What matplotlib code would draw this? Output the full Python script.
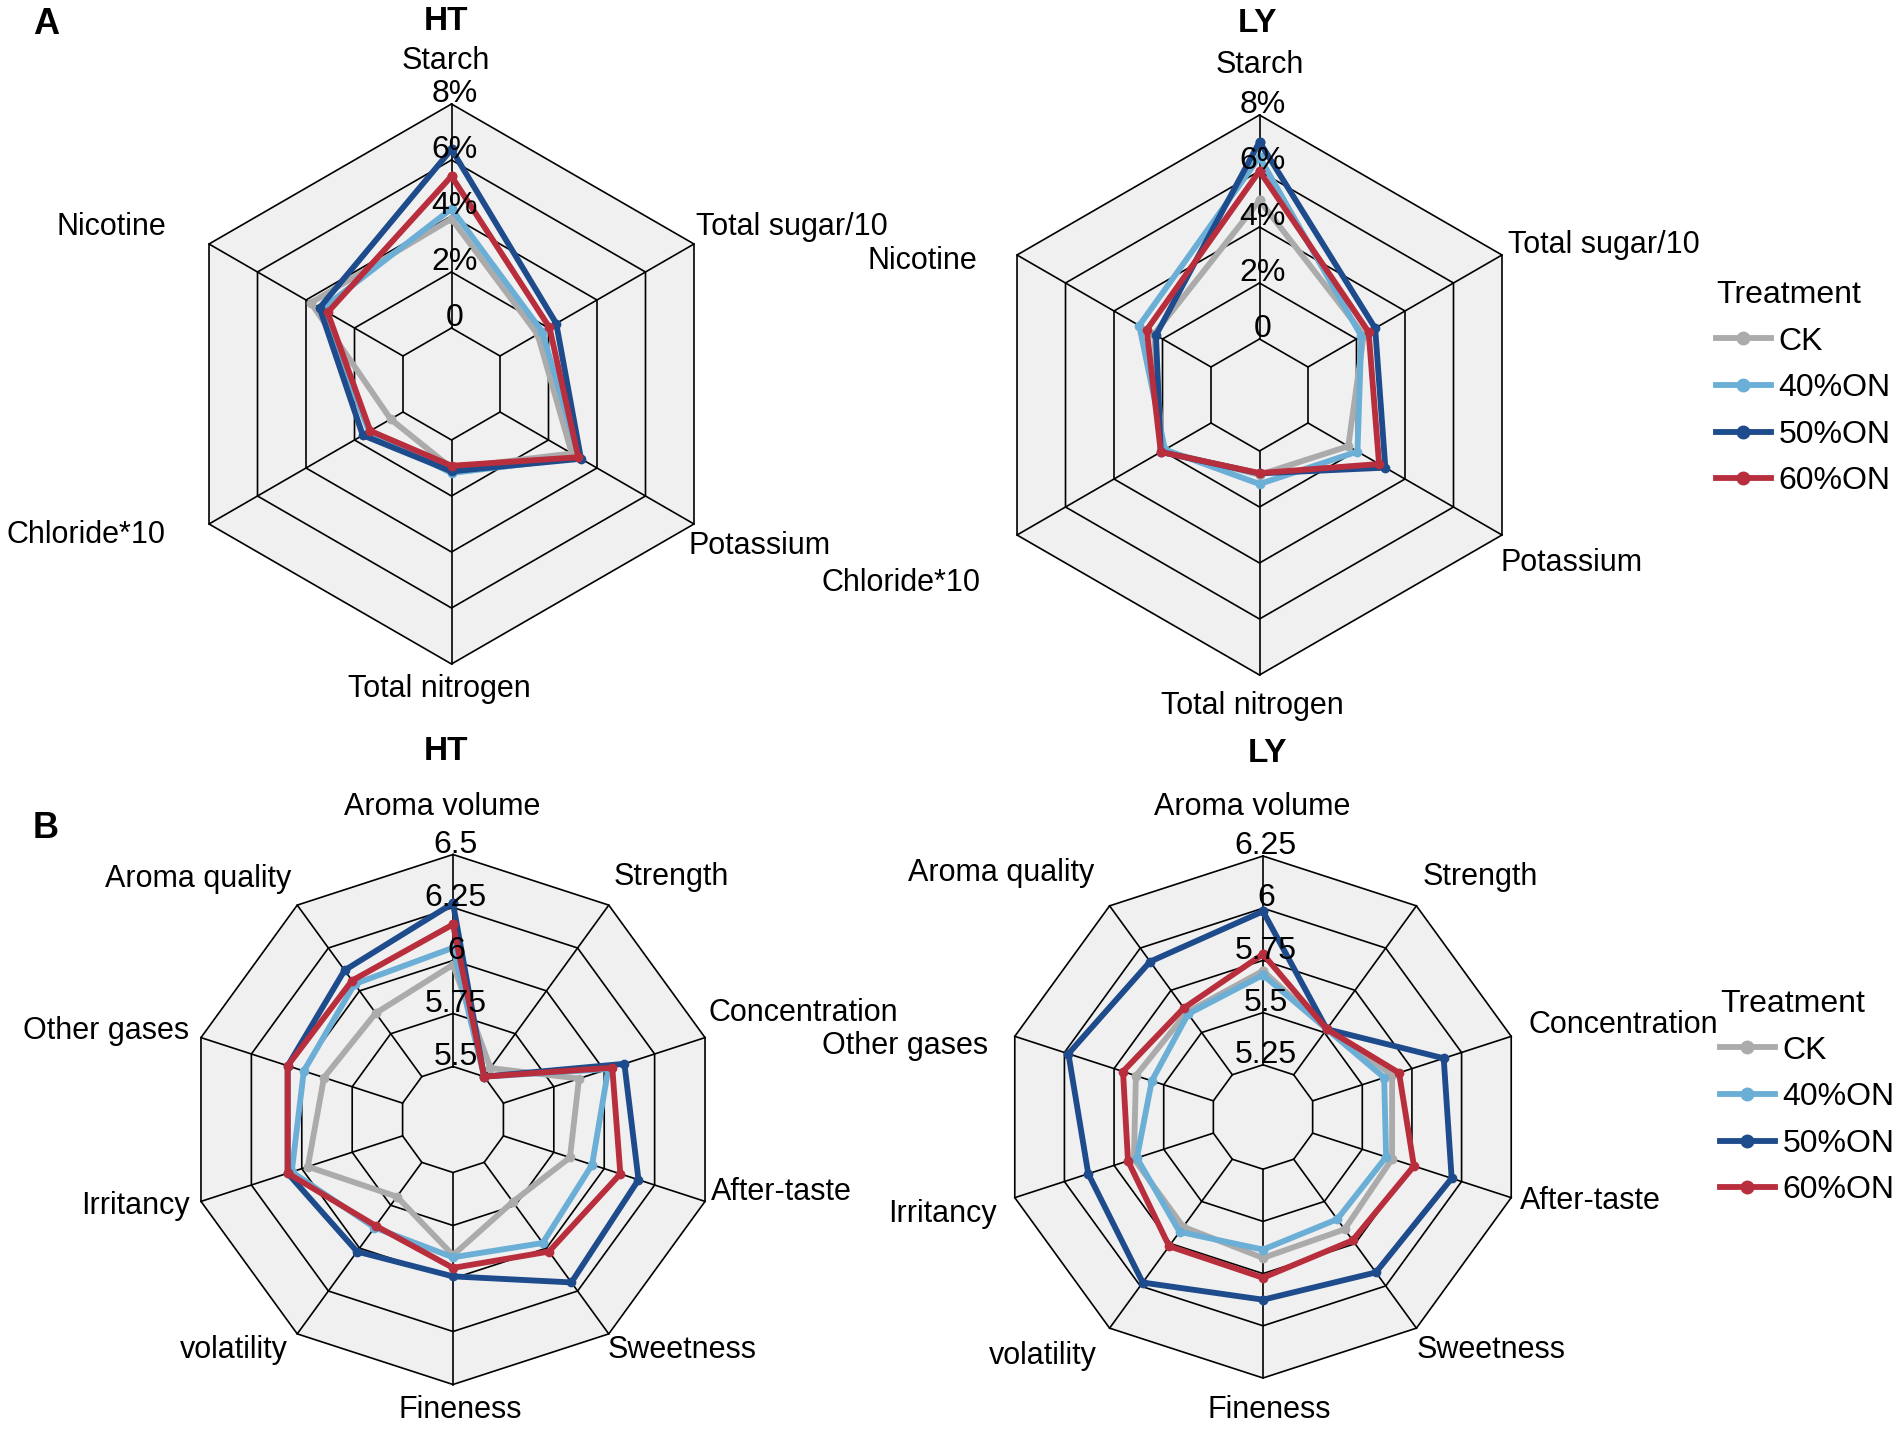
import numpy as np
import matplotlib.pyplot as plt
from matplotlib.lines import Line2D

plt.rcParams['font.family'] = ['Liberation Sans', 'DejaVu Sans']

# ---------------- data ----------------
TREATMENTS = ['CK', '40%ON', '50%ON', '60%ON']
COLORS = ['#ABABAB', '#6BAED6', '#1E4B8B', '#B82E3C']

CHEM_AXES = ['Starch', 'Total sugar/10', 'Potassium', 'Total nitrogen', 'Chloride*10', 'Nicotine']
CHEM_TICKS = [0, 2, 4, 6, 8]
CHEM_TICK_LABELS = ['0', '2%', '4%', '6%', '8%']

CHEM_HT_CK = [3.9, 1.55, 2.96, 1.0, 0.51, 3.8]
CHEM_HT_40 = [4.26, 1.74, 3.25, 1.18, 1.4, 3.35]
CHEM_HT_50 = [6.38, 2.32, 3.34, 1.12, 1.66, 3.44]
CHEM_HT_60 = [5.42, 2.04, 3.23, 0.92, 1.35, 3.11]

CHEM_LY_CK = [4.95, 2.3, 1.66, 0.85, 2.0, 2.35]
CHEM_LY_40 = [6.5, 2.2, 2.04, 1.18, 1.9, 2.96]
CHEM_LY_50 = [7.04, 2.77, 3.19, 0.8, 2.07, 2.27]
CHEM_LY_60 = [6.0, 2.5, 2.93, 0.79, 2.07, 2.65]

SENS_AXES = ['Aroma volume', 'Strength', 'Concentration', 'After-taste', 'Sweetness',
             'Fineness', 'volatility', 'Irritancy', 'Other gases', 'Aroma quality']
SENS_HT_TICKS = [5.5, 5.75, 6, 6.25, 6.5]
SENS_HT_TICK_LABELS = ['5.5', '5.75', '6', '6.25', '6.5']
SENS_LY_TICKS = [5.25, 5.5, 5.75, 6, 6.25]
SENS_LY_TICK_LABELS = ['5.25', '5.5', '5.75', '6', '6.25']

SENS_HT_CK = [5.98, 5.55, 5.875, 5.83, 5.73, 5.89, 5.70, 5.97, 5.89, 5.87]
SENS_HT_40 = [6.06, 5.5, 6.02, 5.94, 5.97, 5.90, 5.88, 6.05, 5.99, 6.04]
SENS_HT_50 = [6.27, 5.5, 6.10, 6.17, 6.20, 5.99, 6.02, 6.07, 6.07, 6.12]
SENS_HT_60 = [6.17, 5.5, 6.04, 6.08, 6.02, 5.95, 5.87, 6.07, 6.07, 6.06]

SENS_LY_CK = [5.70, 5.52, 5.65, 5.65, 5.665, 5.675, 5.65, 5.65, 5.64, 5.62]
SENS_LY_40 = [5.68, 5.52, 5.61, 5.62, 5.605, 5.635, 5.68, 5.635, 5.56, 5.61]
SENS_LY_50 = [5.985, 5.52, 5.91, 5.95, 5.92, 5.875, 5.98, 5.88, 5.98, 5.92]
SENS_LY_60 = [5.78, 5.52, 5.685, 5.76, 5.73, 5.77, 5.765, 5.68, 5.705, 5.645]

# ---------------- layout (pixels) ----------------
W, H = 1902, 1429
LABEL_FS = 22
TICK_FS = 23

# label centres relative to radar centre, in units of radius (x right, y down)
CHEM_HT_LAB = [(-0.02, -1.155), (1.216, -0.561), (1.10, 0.579), (-0.044, 1.089), (-1.305, 0.539), (-1.214, -0.561)]
CHEM_LY_LAB = [(0.0, -1.177), (1.229, -0.536), (1.116, 0.60), (-0.027, 1.111), (-1.28, 0.673), (-1.205, -0.479)]
SENS_HT_LAB = [(-0.04, -1.18), (0.822, -0.915), (1.321, -0.402), (1.238, 0.275), (0.864, 0.871),
               (0.026, 1.095), (-0.826, 0.871), (-1.197, 0.326), (-1.311, -0.334), (-0.963, -0.906)]
SENS_LY_LAB = [(-0.042, -1.189), (0.831, -0.92), (1.38, -0.352), (1.253, 0.322), (0.873, 0.893),
               (0.023, 1.121), (-0.843, 0.916), (-1.227, 0.372), (-1.372, -0.273), (-1.004, -0.933)]


def radar(fig, cx, cy, R, names, ticks, tick_labels, series, lab_pos):
    rect = [(cx - R) / W, 1 - (cy + R) / H, 2 * R / W, 2 * R / H]
    ax = fig.add_axes(rect, projection='polar')
    ax.set_theta_offset(np.pi / 2)
    ax.set_theta_direction(-1)
    n = len(names)
    theta = np.linspace(0, 2 * np.pi, n, endpoint=False)
    th = np.append(theta, theta[0])
    rmin = ticks[0] - (ticks[1] - ticks[0])
    rmax = ticks[-1]
    ax.set_ylim(rmin, rmax)
    ax.grid(False)
    ax.set_xticks([])
    ax.set_yticks([])
    ax.spines['polar'].set_visible(False)
    ax.patch.set_visible(False)

    # background and web (spokes start at the innermost ring)
    ax.fill(th, [rmax] * (n + 1), color='#F0F0F0', zorder=0, lw=0)
    for lev in ticks:
        ax.plot(th, [lev] * (n + 1), color='black', lw=1.2, zorder=1, clip_on=False)
    for t in theta:
        ax.plot([t, t], [ticks[0], rmax], color='black', lw=1.2, zorder=1, clip_on=False)

    for vals, col in zip(series, COLORS):
        v = list(vals) + [vals[0]]
        ax.plot(th, v, color=col, lw=4.2, marker='o', ms=6, zorder=3, clip_on=False)

    for lev, lab in zip(ticks, tick_labels):
        ax.annotate(lab, xy=(0, lev), xytext=(2, 7), textcoords='offset points',
                    ha='center', va='center', fontsize=TICK_FS, zorder=4)

    for name, (dx, dy) in zip(names, lab_pos):
        ax.text(0.5 + 0.5 * dx, 0.5 - 0.5 * dy, name, transform=ax.transAxes,
                ha='center', va='center', fontsize=LABEL_FS)
    return ax


fig = plt.figure(figsize=(W / 100, H / 100), dpi=100)

radar(fig, 451.5, 384, 280, CHEM_AXES, CHEM_TICKS, CHEM_TICK_LABELS,
      [CHEM_HT_CK, CHEM_HT_40, CHEM_HT_50, CHEM_HT_60], CHEM_HT_LAB)
radar(fig, 1259.5, 395, 280, CHEM_AXES, CHEM_TICKS, CHEM_TICK_LABELS,
      [CHEM_LY_CK, CHEM_LY_40, CHEM_LY_50, CHEM_LY_60], CHEM_LY_LAB)
radar(fig, 453, 1119.5, 265, SENS_AXES, SENS_HT_TICKS, SENS_HT_TICK_LABELS,
      [SENS_HT_CK, SENS_HT_40, SENS_HT_50, SENS_HT_60], SENS_HT_LAB)
radar(fig, 1263, 1117, 261, SENS_AXES, SENS_LY_TICKS, SENS_LY_TICK_LABELS,
      [SENS_LY_CK, SENS_LY_40, SENS_LY_50, SENS_LY_60], SENS_LY_LAB)

# titles and panel letters
for txt, x, y in [('HT', 446.5, 22), ('LY', 1258, 23), ('HT', 446.5, 751), ('LY', 1268, 754)]:
    fig.text(x / W, 1 - y / H, txt, ha='center', va='center', fontsize=24, fontweight='bold')
for txt, x, y in [('A', 46, 24), ('B', 46, 829)]:
    fig.text(x / W, 1 - y / H, txt, ha='center', va='center', fontsize=26, fontweight='bold')

# legends
handles = [Line2D([], [], color=c, lw=4.2, marker='o', ms=9) for c in COLORS]
for x, y in [(1716, 280), (1720, 989)]:
    fig.legend(handles, TREATMENTS, title='Treatment', loc='upper left',
               bbox_to_anchor=(x / W, 1 - y / H), frameon=False, fontsize=23,
               title_fontsize=23, handlelength=1.72, handletextpad=0.24,
               labelspacing=0.52, borderpad=0, borderaxespad=0, alignment='left')

fig.savefig('out.png', dpi=100)
